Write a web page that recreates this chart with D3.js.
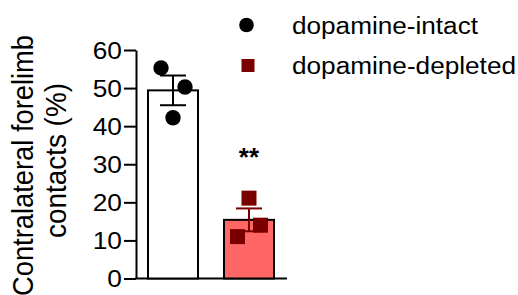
<!DOCTYPE html>
<html><head><meta charset="utf-8">
<script src="https://cdn.jsdelivr.net/npm/d3@7"></script>
<style>
html,body{margin:0;padding:0;background:#fff;}
svg{display:block;}
text{font-family:"Liberation Sans",Arial,Helvetica,sans-serif;fill:#000;}
</style></head>
<body>
<svg id="chart" width="518" height="295"></svg>
<script>
const groups = ["dopamine-intact", "dopamine-depleted"];
const means = [49.4, 15.4];
const sems = [3.9, 3.0];
const intactPoints = [55.3, 50.3, 42.2];
const depletedPoints = [21.1, 11.0, 14.0];
const yTicks = [0, 10, 20, 30, 40, 50, 60];
const yLabelLines = ["Contralateral forelimb", "contacts (%)"];
const significance = "**";

const barFills = ["#ffffff", "#ff6666"];
const pointColors = ["#000000", "#7a0000"];
const errColors = ["#000000", "#7a0000"];

const svg = d3.select("#chart");
const y = d3.scaleLinear().domain([0, 60]).range([278.5, 50]);
const x = d3.scaleBand().domain(groups).range([136, 286]).paddingInner(0.342).paddingOuter(0.158);

// y axis
const yAxis = d3.axisLeft(y).tickValues(yTicks).tickSize(12).tickPadding(2).tickSizeOuter(0);
const gy = svg.append("g").attr("transform", "translate(136,0)").call(yAxis);
gy.select(".domain").attr("stroke", "#000").attr("stroke-width", 2);
gy.selectAll(".tick line").attr("stroke", "#000").attr("stroke-width", 2);
gy.selectAll(".tick text").attr("font-size", 23.5).attr("font-family", "Liberation Sans, Arial, sans-serif")
  .attr("fill", "#000").attr("dy", "0.36em")
  .attr("transform", "scale(1.12,1)").attr("x", -14/1.12);

// x baseline
svg.append("line").attr("x1", 135).attr("x2", 287).attr("y1", y(0)).attr("y2", y(0))
  .attr("stroke", "#000").attr("stroke-width", 2);

// bars
svg.selectAll("rect.bar").data(groups).enter().append("rect")
  .attr("class", "bar")
  .attr("x", d => x(d))
  .attr("width", x.bandwidth())
  .attr("y", (d, i) => y(means[i]))
  .attr("height", (d, i) => y(0) - y(means[i]))
  .attr("fill", (d, i) => barFills[i])
  .attr("stroke", "#000").attr("stroke-width", 2);

// error bars
const capW = 26;
groups.forEach((g, i) => {
  const cx = x(g) + x.bandwidth() / 2;
  const eg = svg.append("g").attr("stroke", errColors[i]).attr("stroke-width", 2);
  eg.append("line").attr("x1", cx).attr("x2", cx).attr("y1", y(means[i] + sems[i])).attr("y2", y(means[i] - sems[i]));
  eg.append("line").attr("x1", cx - capW / 2).attr("x2", cx + capW / 2).attr("y1", y(means[i] + sems[i])).attr("y2", y(means[i] + sems[i]));
  eg.append("line").attr("x1", cx - capW / 2).attr("x2", cx + capW / 2).attr("y1", y(means[i] - sems[i])).attr("y2", y(means[i] - sems[i]));
});

// points
const jitter = [-12, 12, 0];
const jitter2 = [0, -11.5, 11.5];
const c0 = x(groups[0]) + x.bandwidth() / 2;
svg.selectAll("circle.pt").data(intactPoints).enter().append("circle")
  .attr("class", "pt")
  .attr("cx", (d, i) => c0 + jitter[i]).attr("cy", d => y(d)).attr("r", 7.7)
  .attr("fill", pointColors[0]);
const c1 = x(groups[1]) + x.bandwidth() / 2;
const sq = 15;
svg.selectAll("rect.pt").data(depletedPoints).enter().append("rect")
  .attr("class", "pt")
  .attr("x", (d, i) => c1 + jitter2[i] - sq / 2).attr("y", d => y(d) - sq / 2)
  .attr("width", sq).attr("height", sq)
  .attr("fill", pointColors[1]);

// significance
svg.append("text").attr("x", c1).attr("y", 166).attr("text-anchor", "middle")
  .attr("font-size", 26).attr("font-weight", "bold").text(significance);

// y label
const yl = svg.append("text").attr("transform", "translate(0,165) rotate(-90)")
  .attr("text-anchor", "middle").attr("font-size", 30);
yl.append("tspan").attr("x", -0.5).attr("y", 33).attr("textLength", 261).attr("lengthAdjust", "spacingAndGlyphs").text(yLabelLines[0]);
yl.append("tspan").attr("x", 4.5).attr("y", 66).attr("textLength", 155).attr("lengthAdjust", "spacingAndGlyphs").text(yLabelLines[1]);

// legend
const lg = svg.append("g");
lg.append("circle").attr("cx", 246.5).attr("cy", 25).attr("r", 7.3).attr("fill", pointColors[0]);
lg.append("rect").attr("x", 241.5).attr("y", 59).attr("width", 13).attr("height", 13).attr("fill", pointColors[1]);
lg.append("text").attr("x", 292).attr("y", 34).attr("font-size", 23).attr("textLength", 186).attr("lengthAdjust", "spacingAndGlyphs").text(groups[0]);
lg.append("text").attr("x", 292).attr("y", 74).attr("font-size", 23).attr("textLength", 224).attr("lengthAdjust", "spacingAndGlyphs").text(groups[1]);
</script>
</body></html>
